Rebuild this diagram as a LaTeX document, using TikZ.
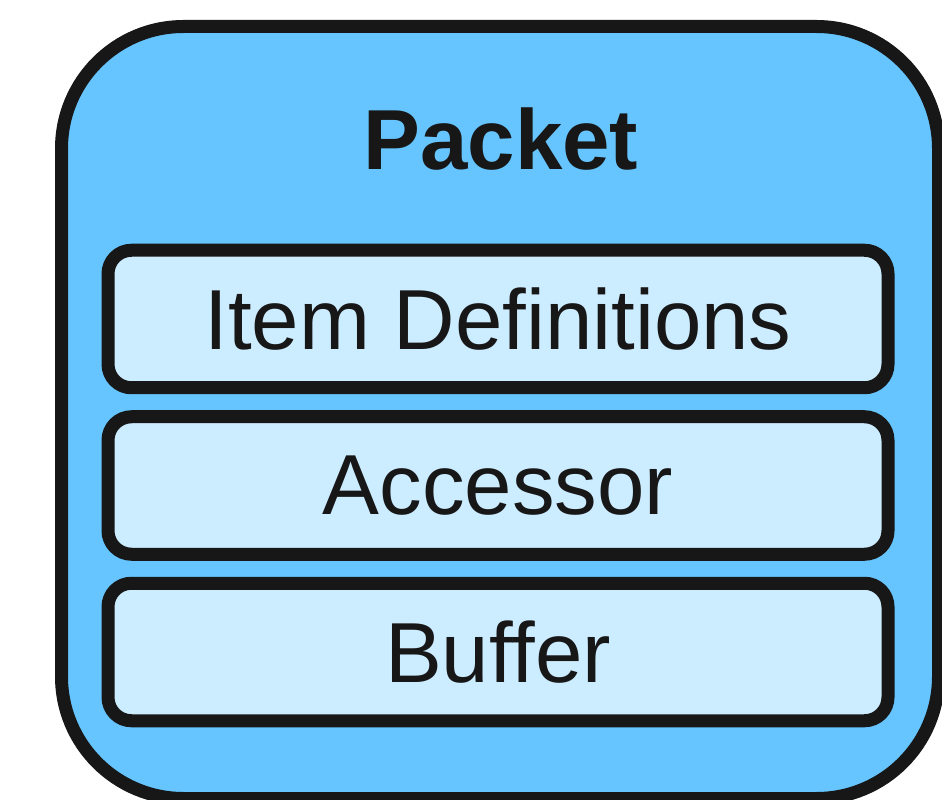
\documentclass[tikz,border=0pt]{standalone}
\usepackage{fontspec}
\setmainfont{Liberation Sans}
\usepackage{xcolor}
\definecolor{paquete}{RGB}{102,197,255}
\definecolor{capa}{RGB}{204,236,255}
\definecolor{trazo}{RGB}{23,23,23}
\usepackage{tikz}
\usetikzlibrary{positioning}

\begin{document}
\begin{tikzpicture}[line width=0.26cm,
    capabox/.style={draw=trazo,fill=capa,text=trazo,rounded corners=0.47cm,
      minimum width=15.6cm,minimum height=2.75cm,inner sep=0pt,
      font=\fontsize{48.5}{58}\selectfont}]
    \useasboundingbox (0,0) rectangle (18.84,15.98);
    \draw[trazo,fill=paquete,rounded corners=2.44cm] (1.23,0.01) rectangle (18.77,15.45);
    \node[text=trazo,font=\bfseries\fontsize{48.5}{58}\selectfont] (titulo) at (10.02,13.2) {Packet};
    \node[capabox] (items) at (9.96,9.6) {Item Definitions};
    \node[capabox,below=0.32cm of items] (acceso) {Accessor};
    \node[capabox,below=0.32cm of acceso] (bufer) {Buffer};
  \end{tikzpicture}
\end{document}
